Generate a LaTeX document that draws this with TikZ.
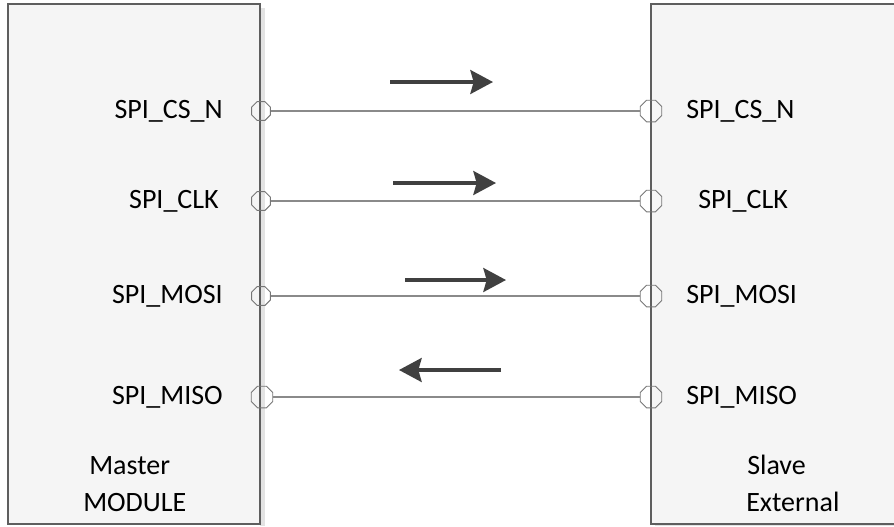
\documentclass[tikz,border=0pt]{standalone}
\usepackage{fontspec}
\setmainfont{Carlito}
\usetikzlibrary{arrows.meta,shapes.geometric,shapes.misc}
\definecolor{boxfill}{HTML}{F5F5F5}
\definecolor{boxline}{HTML}{5E5E5E}
\definecolor{wire}{HTML}{8A8A8A}
\definecolor{arrowgray}{HTML}{404040}
\tikzset{
  module/.style={draw=boxline, line width=0.9pt, fill=boxfill},
  outport/.style={chamfered rectangle, chamfered rectangle corners={north east,north west,south east,south west}, chamfered rectangle xsep=2pt, chamfered rectangle ysep=2pt, draw=boxline!85, line width=0.7pt, minimum width=14pt, minimum height=14pt, inner sep=3pt},
  inport/.style={regular polygon, regular polygon sides=8, draw=boxline!85, line width=0.7pt, minimum size=17.5pt, inner sep=0pt},
  sig/.style={font=\fontsize{21}{24}\selectfont, inner sep=0pt},
  wirestyle/.style={draw=wire, line width=0.9pt},
  dirarrow/.style={draw=arrowgray, line width=2.3pt, -{Stealth[length=17pt, width=18pt, inset=2.5pt]}}
}
\begin{document}
\begin{tikzpicture}[x=0.75pt, y=-0.75pt]
		%%%%% START %%%%%
		\useasboundingbox (0, 0) rectangle (894, 526);
		
		% the two modules
		\fill[gray!22] (260, 8) rectangle (265, 526);
		\draw[module] (8, 4) rectangle (260, 524);
		\fill[gray!22] (655, 524) rectangle (894, 526);
		\draw[module] (894, 524) -- (651, 524) -- (651, 4) -- (894, 4);
		
		\node[sig, anchor=base west] (mastername) at (89, 474) {Master};
		\node[sig, anchor=base west] (mastermod) at (83, 511) {MODULE};
		\node[sig, anchor=base west] (slavename) at (747, 474) {Slave};
		\node[sig, anchor=base west] (slaveext) at (746, 511) {External};
		
		% ports of the master
		\node[outport] (mcs) at (261, 111) {};
		\node[outport] (mclk) at (261, 201) {};
		\node[outport] (mmosi) at (261, 296) {};
		\node[inport] (mmiso) at (262, 397) {};
		
		% ports of the slave
		\node[inport] (scs) at (651, 111) {};
		\node[inport] (sclk) at (651, 201) {};
		\node[inport] (smosi) at (651, 296) {};
		\node[inport] (smiso) at (651, 397) {};
		
		% signal names
		\node[sig, anchor=east] (lcs) at (223, 111) {SPI\_CS\_N};
		\node[sig, anchor=east] (lclk) at (219, 201) {SPI\_CLK};
		\node[sig, anchor=east] (lmosi) at (223, 296) {SPI\_MOSI};
		\node[sig, anchor=east] (lmiso) at (223, 397) {SPI\_MISO};
		\node[sig, anchor=west] (rcs) at (686, 111) {SPI\_CS\_N};
		\node[sig, anchor=west] (rclk) at (698, 201) {SPI\_CLK};
		\node[sig, anchor=west] (rmosi) at (686, 296) {SPI\_MOSI};
		\node[sig, anchor=west] (rmiso) at (686, 397) {SPI\_MISO};
		
		% wires
		\draw[wirestyle] (mcs) -- (scs);
		\draw[wirestyle] (mclk) -- (sclk);
		\draw[wirestyle] (mmosi) -- (smosi);
		\draw[wirestyle] (mmiso) -- (smiso);
		
		% direction of each signal
		\coordinate (csa) at (390, 82);
		\coordinate (csb) at (493, 82);
		\coordinate (clka) at (393, 183);
		\coordinate (clkb) at (496, 183);
		\coordinate (mosia) at (405, 280);
		\coordinate (mosib) at (506, 280);
		\coordinate (misoa) at (501, 370);
		\coordinate (misob) at (399, 370);
		\draw[dirarrow] (csa) -- (csb);
		\draw[dirarrow] (clka) -- (clkb);
		\draw[dirarrow] (mosia) -- (mosib);
		\draw[dirarrow] (misoa) -- (misob);
		
		%%%%% END %%%%%
	\end{tikzpicture}
\end{document}
